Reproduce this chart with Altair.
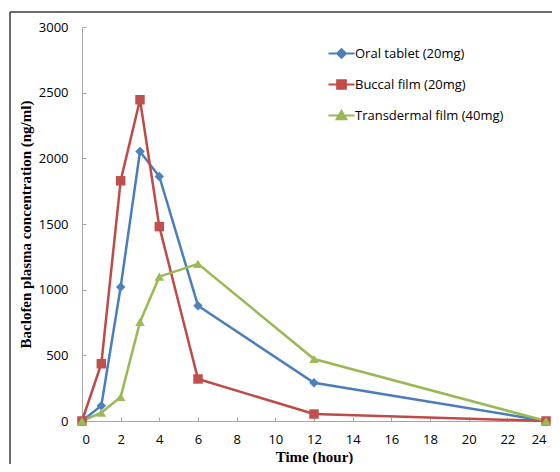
import altair as alt
import pandas as pd

hours = [0, 1, 2, 3, 4, 6, 12, 24]
oral = [0, 117, 1020, 2052, 1862, 878, 291, 0]
buccal = [0, 436, 1829, 2446, 1480, 320, 53, 0]
transdermal = [0, 63, 183, 754, 1099, 1197, 472, 0]

series = ["Oral tablet (20mg)", "Buccal film (20mg)", "Transdermal film (40mg)"]
line_colors = ["#4A7EBB", "#BE4B48", "#98B954"]
marker_colors = ["#4F81BD", "#C0504D", "#9BBB59"]
shapes = ["diamond", "square", "triangle-up"]
legend_paths = [
    "M-2.6,0H2.6M0,-0.85L0.85,0L0,0.85L-0.85,0Z",
    "M-2.6,0H2.6M-0.85,-0.85H0.85V0.85H-0.85Z",
    "M-2.6,0H2.6M0,-0.9L0.95,0.75H-0.95Z",
]
x_ticks = list(range(0, 25, 2))
y_ticks = list(range(0, 3001, 500))

rows = []
for name, vals in zip(series, [oral, buccal, transdermal]):
    for h, v in zip(hours, vals):
        rows.append({"hour": h, "conc": v, "series": name})
df = pd.DataFrame(rows)

AXIS_GRAY = "#A6A6A6"

x_axis = alt.Axis(
    values=x_ticks, title="Time (hour)", grid=True, gridDash=[0, 390, 4, 100],
    gridColor=AXIS_GRAY, gridWidth=1, ticks=False, tickSize=0,
    domainColor=AXIS_GRAY, labelFont="Open Sans", labelFontSize=13,
    labelColor="#000000", labelPadding=12, labelOverlap=False,
    titleFont="Liberation Serif",
    titleFontSize=15, titleFontWeight="bold", titleColor="#000000",
    titleY=28, titleBaseline="top",
)
y_axis = alt.Axis(
    values=y_ticks, format="d", title="Baclofen plasma concentration (ng/ml)",
    grid=True, gridDash=[4, 2000], gridColor=AXIS_GRAY, gridWidth=1,
    ticks=False, tickSize=0, domainColor=AXIS_GRAY, labelFont="Open Sans",
    labelFontSize=13, labelColor="#000000", labelPadding=14, labelOverlap=False,
    titleFont="Liberation Serif", titleFontSize=15, titleFontWeight="bold",
    titleColor="#000000", titleX=-57, titleBaseline="middle",
)


def xe():
    return alt.X("hour:Q", scale=alt.Scale(domain=[0, 24], nice=False), axis=x_axis)


def ye():
    return alt.Y("conc:Q", scale=alt.Scale(domain=[0, 3000], nice=False), axis=y_axis)


color_line = alt.Color("series:N", scale=alt.Scale(domain=series, range=line_colors), legend=None)

lines = alt.Chart(df).mark_line(strokeWidth=2.5).encode(
    x=xe(), y=ye(), color=color_line, detail="series:N"
)

points = alt.Chart(df).mark_point(filled=True, size=90, opacity=1).encode(
    x=xe(), y=ye(),
    fill=alt.Fill("series:N", scale=alt.Scale(domain=series, range=marker_colors), legend=None),
    shape=alt.Shape("series:N", scale=alt.Scale(domain=series, range=shapes), legend=None),
)

leg = alt.Legend(
    title=None, orient="none", legendX=253, legendY=20,
    symbolSize=100, symbolStrokeWidth=2.2, labelFont="Open Sans",
    labelFontSize=13, labelColor="#000000", labelOffset=7,
    rowPadding=12, padding=0, symbolOpacity=1,
)

legend_layer = alt.Chart(df).mark_point(filled=True, size=0).encode(
    x=xe(), y=ye(),
    stroke=alt.Stroke("series:N", scale=alt.Scale(domain=series, range=line_colors), legend=leg),
    fill=alt.Fill("series:N", scale=alt.Scale(domain=series, range=marker_colors), legend=leg),
    shape=alt.Shape("series:N", scale=alt.Scale(domain=series, range=legend_paths), legend=leg),
)

frame_df = pd.DataFrame({"k": [0]})
frame_top = alt.Chart(frame_df).mark_rule(color="#3A3A3A", strokeWidth=1.5).encode(
    x=alt.value(-72), x2=alt.value(490), y=alt.value(-15)
)
frame_left = alt.Chart(frame_df).mark_rule(color="#3A3A3A", strokeWidth=1.5).encode(
    x=alt.value(-72), y=alt.value(-15), y2=alt.value(470)
)

chart = alt.layer(lines, points, legend_layer, frame_top, frame_left).resolve_scale(
    fill="independent", shape="independent", stroke="independent", color="independent"
).properties(
    width=464, height=394,
    autosize=alt.AutoSizeParams(type="none"),
    padding={"left": 74, "top": 19, "right": 6, "bottom": 43},
    background="white",
).configure_view(stroke=None)

chart.save("out.html", embed_options={"renderer": "svg", "actions": False})
